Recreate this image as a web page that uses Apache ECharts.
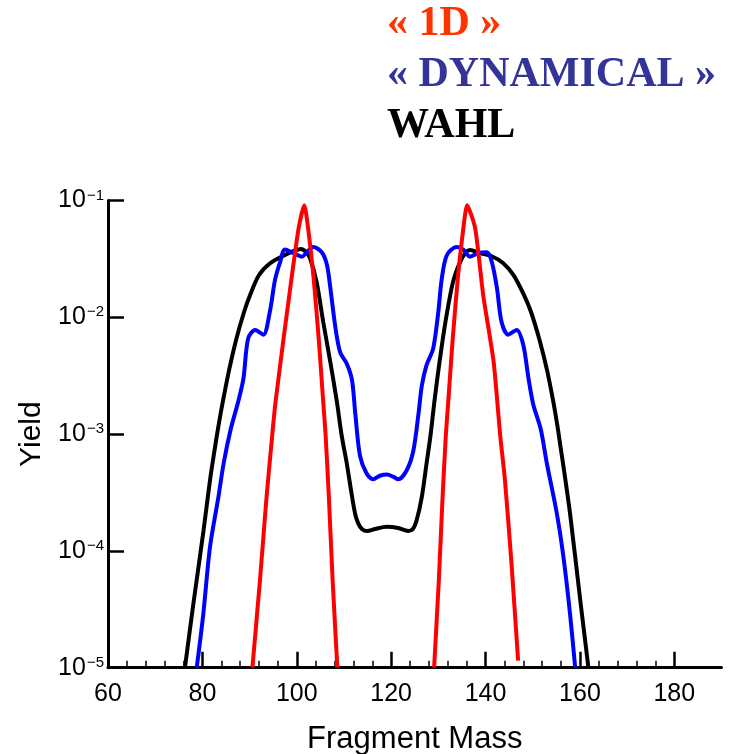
<!DOCTYPE html>
<html>
<head>
<meta charset="utf-8">
<script src="https://cdn.jsdelivr.net/npm/echarts@6/dist/echarts.min.js"></script>
<style>
  html, body { margin: 0; padding: 0; background: #fff; }
  #chart { width: 733px; height: 754px; }
</style>
</head>
<body>
<div id="chart"></div>
<script>
// x ticks (fragment mass)
var massTicks = [60, 80, 100, 120, 140, 160, 180];
var massMinorTicks = [64, 68, 72, 76, 84, 88, 92, 96, 104, 108, 112, 116, 124, 128, 132, 136, 144, 148, 152, 156, 164, 168, 172, 176];

// WAHL (black)
var wahlMass = [76.3, 78.2, 80.25, 81.63, 82.58, 83.43, 84.39, 85.66, 87.14, 88.83, 90.11, 92.0, 94.35, 97.1, 99.4, 100.9, 102.0, 102.8, 104.2, 105.6, 107.1, 108.5, 109.5, 110.6, 111.5, 112.35, 113.0, 113.8, 114.9, 116.6, 119.1, 121.5, 123.6, 124.6, 125.4, 126.5, 127.5, 128.35, 129.2, 130.25, 131.5, 133.1, 134.6, 135.9, 136.7, 138.8, 141.2, 143.7, 145.93, 148.16, 149.64, 151.44, 153.03, 154.3, 155.21, 155.99, 156.63, 157.9, 160.0, 161.8];
var wahlYield = [1.0e-5, 3.8e-5, 1.5e-4, 4.06e-4, 7.3e-4, 1.19e-3, 1.95e-3, 3.53e-3, 6.4e-3, 1.11e-2, 1.55e-2, 2.3e-2, 2.9e-2, 3.35e-2, 3.7e-2, 3.85e-2, 3.62e-2, 3.21e-2, 2.01e-2, 9.16e-3, 4.16e-3, 1.89e-3, 9.8e-4, 5.6e-4, 3.3e-4, 2.09e-4, 1.73e-4, 1.54e-4, 1.48e-4, 1.54e-4, 1.61e-4, 1.57e-4, 1.48e-4, 1.54e-4, 1.83e-4, 2.9e-4, 5.6e-4, 9.8e-4, 1.95e-3, 4.14e-3, 9.1e-3, 2.0e-2, 2.97e-2, 3.62e-2, 3.77e-2, 3.55e-2, 3.35e-2, 2.92e-2, 2.3e-2, 1.55e-2, 1.11e-2, 6.4e-3, 3.53e-3, 1.95e-3, 1.19e-3, 7.3e-4, 4.9e-4, 2.1e-4, 4.0e-5, 1.0e-5];

// "DYNAMICAL" (blue)
var dynMass = [78.8, 80.2, 81.6, 83.4, 84.5, 86.0, 87.6, 88.7, 89.7, 91.2, 92.9, 94.3, 95.4, 96.5, 97.5, 99.3, 101.1, 102.1, 103.5, 105.3, 106.4, 107.1, 108.2, 109.2, 110.6, 111.7, 112.4, 113.4, 114.8, 116.2, 117.6, 119.1, 120.5, 121.5, 123.3, 124.7, 125.8, 126.5, 127.5, 128.9, 130.0, 130.7, 131.8, 133.9, 135.3, 136.7, 138.5, 140.3, 141.3, 142.4, 143.4, 144.8, 146.6, 148.0, 149.1, 150.1, 151.7, 153.0, 155.1, 156.5, 157.9, 159.0];
var dynYield = [1.0e-5, 2.9e-5, 1.07e-4, 2.9e-4, 5.6e-4, 1.1e-3, 1.9e-3, 3.0e-3, 6.6e-3, 7.8e-3, 7.1e-3, 1.12e-2, 2.1e-2, 3.0e-2, 3.8e-2, 3.55e-2, 3.3e-2, 3.6e-2, 4.0e-2, 3.6e-2, 2.8e-2, 1.8e-2, 8.1e-3, 5.0e-3, 4.0e-3, 2.9e-3, 1.5e-3, 6.5e-4, 4.6e-4, 4.1e-4, 4.4e-4, 4.5e-4, 4.3e-4, 4.1e-4, 4.9e-4, 7.2e-4, 1.5e-3, 2.6e-3, 3.9e-3, 5.4e-3, 1.12e-2, 2.1e-2, 3.4e-2, 4.0e-2, 3.8e-2, 3.3e-2, 3.55e-2, 3.6e-2, 3.0e-2, 1.8e-2, 9.1e-3, 7.1e-3, 7.8e-3, 5.8e-3, 3.0e-3, 1.8e-3, 1.1e-3, 5.6e-4, 2.1e-4, 8.9e-5, 2.9e-5, 1.0e-5];

// "1D" (red), light and heavy peaks
var oneDLightMass = [90.6, 92.2, 93.6, 94.9, 95.5, 97.1, 98.9, 100.4, 101.6, 102.4, 103.6, 104.7, 105.6, 106.1, 106.8, 107.6, 108.6];
var oneDLightYield = [1.0e-5, 5.6e-5, 2.9e-4, 1.08e-3, 1.88e-3, 6.1e-3, 2.17e-2, 5.8e-2, 9.1e-2, 5.8e-2, 2.1e-2, 6.2e-3, 1.9e-3, 1.0e-3, 2.9e-4, 5.6e-5, 1.0e-5];
var oneDHeavyMass = [129.1, 130.1, 130.9, 131.6, 132.1, 133.0, 134.1, 135.3, 136.1, 137.8, 139.5, 141.7, 143.1, 144.1, 145.5, 146.9];
var oneDHeavyYield = [1.0e-5, 5.6e-5, 2.9e-4, 1.0e-3, 1.9e-3, 6.2e-3, 2.1e-2, 5.8e-2, 9.1e-2, 5.8e-2, 1.55e-2, 4.2e-3, 9.8e-4, 4.1e-4, 7.8e-5, 1.15e-5];

function zip(xs, ys) {
  return xs.map(function (x, i) { return [x, ys[i]]; });
}

var chart = echarts.init(document.getElementById('chart'), null, { renderer: 'canvas' });
var font = 'Liberation Sans';

var lineBase = {
  type: 'line',
  showSymbol: false,
  symbol: 'none',
  clip: true,
  animation: false
};

chart.setOption({
  animation: false,
  backgroundColor: '#fff',
  graphic: [
    { type: 'text', left: 387, top: 3, style: { text: '\u00ab 1D \u00bb', fill: '#ff3300', font: 'bold 42px "Liberation Serif"' } },
    { type: 'text', left: 387, top: 54, style: { text: '\u00ab DYNAMICAL \u00bb', fill: '#333399', font: 'bold 42px "Liberation Serif"' } },
    { type: 'text', left: 387, top: 105, style: { text: 'WAHL', fill: '#000', font: 'bold 42px "Liberation Serif"' } }
  ],
  grid: { left: 108, top: 200.5, right: 11.5, bottom: 86.3, containLabel: false, outerBoundsMode: 'none' },
  xAxis: [
    {
      type: 'value',
      min: 60,
      max: 190,
      name: 'Fragment Mass',
      nameLocation: 'middle',
      nameGap: 56,
      nameTextStyle: { fontFamily: font, fontSize: 31, color: '#000' },
      axisLine: { lineStyle: { color: '#000', width: 3 } },
      axisTick: { inside: true, length: 16, lineStyle: { color: '#000', width: 2.5 }, customValues: massTicks },
      axisLabel: { customValues: massTicks, margin: 14, fontFamily: font, fontSize: 25, color: '#000' },
      splitLine: { show: false }
    },
    {
      type: 'value',
      min: 60,
      max: 190,
      position: 'bottom',
      axisLine: { show: false },
      axisTick: { inside: true, length: 7, lineStyle: { color: '#000', width: 1.5 }, customValues: massMinorTicks },
      axisLabel: { show: false },
      splitLine: { show: false }
    }
  ],
  yAxis: {
    type: 'log',
    logBase: 10,
    min: 1e-5,
    max: 1e-1,
    name: 'Yield',
    nameLocation: 'middle',
    nameGap: 58,
    nameRotate: 90,
    nameTextStyle: { fontFamily: font, fontSize: 30, color: '#000' },
    axisLine: { show: true, lineStyle: { color: '#000', width: 3 } },
    axisTick: { inside: true, length: 16, lineStyle: { color: '#000', width: 2.5 } },
    axisLabel: {
      margin: 4,
      formatter: function (v) {
        var e = Math.round(Math.log10(v));
        return '{b|10}{s|\u2212' + Math.abs(e) + '}';
      },
      rich: {
        b: { fontFamily: font, fontSize: 25, color: '#000' },
        s: { fontFamily: font, fontSize: 15, color: '#000', verticalAlign: 'top', padding: [0, 0, 0, 1] }
      }
    },
    splitLine: { show: false }
  },
  series: [
    Object.assign({}, lineBase, {
      name: 'WAHL',
      data: zip(wahlMass, wahlYield),
      smooth: 0.3,
      lineStyle: { color: '#000', width: 4 }
    }),
    Object.assign({}, lineBase, {
      name: 'DYNAMICAL',
      data: zip(dynMass, dynYield),
      smooth: 0.3,
      lineStyle: { color: '#0000ff', width: 4 }
    }),
    Object.assign({}, lineBase, {
      name: '1D',
      data: zip(oneDLightMass, oneDLightYield),
      smooth: 0.2,
      lineStyle: { color: '#ff0000', width: 4 }
    }),
    Object.assign({}, lineBase, {
      name: '1D',
      data: zip(oneDHeavyMass, oneDHeavyYield),
      smooth: 0.2,
      lineStyle: { color: '#ff0000', width: 4 }
    })
  ]
});
</script>
</body>
</html>
